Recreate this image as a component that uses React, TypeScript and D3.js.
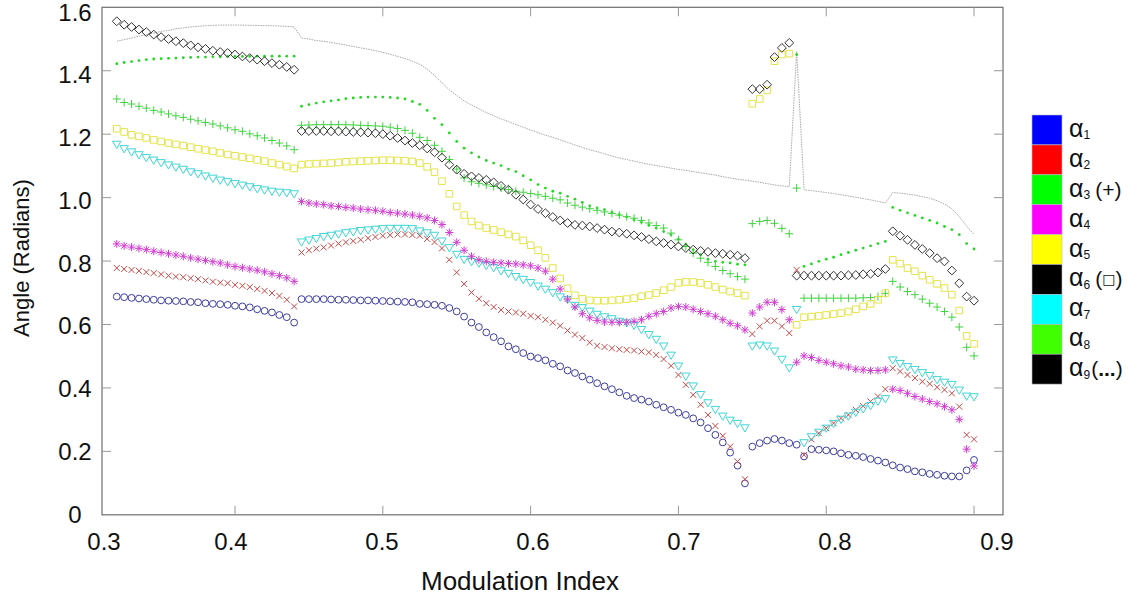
import React from 'react';
import * as d3 from 'd3';

// Modulation index grid (step 0.005 from 0.32 to 0.90)
const modIndex: number[] = d3.range(117).map((i) => +(0.32 + 0.005 * i).toFixed(3));

const alpha1: (number | null)[] = [
  0.688,0.686,0.684,0.682,0.680,0.678,0.676,0.675,0.674,0.673,0.671,0.670,0.667,0.665,0.664,0.662,0.659,0.657,0.654,0.648,0.643,0.638,0.630,0.623,0.606,
  0.680,0.680,0.680,0.680,0.679,0.678,0.678,0.677,0.676,0.676,0.675,0.674,0.673,0.672,0.671,0.670,
  0.665,0.664,0.662,0.659,0.652,0.641,0.625,0.606,0.592,0.575,0.560,0.547,0.531,0.522,0.510,0.499,0.494,0.487,0.476,0.468,0.455,0.447,0.436,0.426,0.415,0.405,0.396,0.386,0.375,0.368,0.363,0.357,0.347,0.339,0.331,0.322,0.315,0.304,0.291,0.273,0.252,0.228,0.196,0.155,0.099,
  0.215,0.226,0.234,0.239,0.234,0.226,0.221,
  0.184,0.207,0.205,0.203,0.200,0.194,0.189,0.186,0.182,0.176,0.171,0.165,0.156,0.149,0.144,0.137,0.134,0.129,0.126,0.123,0.121,0.121,0.140,0.173,
];

const alpha2: (number | null)[] = [
  0.778,0.775,0.772,0.769,0.765,0.762,0.758,0.754,0.751,0.749,0.746,0.743,0.739,0.735,0.732,0.730,0.725,0.722,0.718,0.712,0.706,0.699,0.690,0.678,0.657,
  0.827,0.834,0.839,0.843,0.849,0.855,0.859,0.863,0.867,0.872,0.876,0.880,0.882,0.884,0.884,0.882,
  0.880,0.870,0.860,0.840,0.804,0.764,0.728,0.701,0.681,0.667,0.655,0.646,0.641,0.638,0.634,0.627,0.623,0.615,0.606,0.596,0.581,0.568,0.557,0.543,0.533,0.529,0.525,0.522,0.520,0.518,0.515,0.512,0.504,0.491,0.470,0.441,0.410,0.378,0.347,0.315,0.280,0.249,0.215,0.168,0.112,
  0.570,0.594,0.612,0.612,0.594,0.573,
  0.772,
  0.189,0.238,0.257,0.273,0.289,0.304,0.315,0.331,0.343,0.357,0.373,0.396,
  0.462,0.452,0.441,0.431,0.420,0.413,0.402,0.394,0.383,0.341,0.252,0.238,
];

const alpha3: (number | null)[] = [
  1.311,1.300,1.295,1.288,1.282,1.275,1.270,1.264,1.258,1.253,1.247,1.242,1.237,1.232,1.226,1.220,1.214,1.209,1.201,1.195,1.188,1.180,1.172,1.163,1.151,
  1.228,1.229,1.230,1.230,1.230,1.230,1.230,1.229,1.228,1.227,1.226,1.225,1.222,1.218,1.212,1.203,
  1.190,1.180,1.165,1.146,1.120,1.090,1.062,1.050,1.045,1.040,1.035,1.030,1.025,1.020,1.017,1.013,1.009,1.004,0.998,0.993,0.983,0.976,0.970,0.965,0.960,0.955,0.950,0.945,0.940,0.935,0.928,0.920,0.912,0.904,0.888,0.867,0.846,0.825,0.809,0.796,0.783,0.770,0.760,0.751,0.743,
  0.918,0.925,0.928,0.919,0.903,0.886,
  1.030,
  0.683,0.683,0.683,0.683,0.683,0.683,0.683,0.683,0.684,0.685,0.688,0.698,
  0.736,0.718,0.704,0.694,0.680,0.667,0.655,0.641,0.623,0.592,0.528,0.501,
];

const alpha4: (number | null)[] = [
  0.854,0.848,0.844,0.840,0.836,0.831,0.827,0.823,0.819,0.815,0.810,0.806,0.802,0.798,0.794,0.788,0.783,0.779,0.775,0.771,0.766,0.760,0.754,0.747,0.736,
  0.988,0.983,0.980,0.978,0.974,0.972,0.969,0.967,0.964,0.962,0.960,0.957,0.953,0.951,0.948,0.945,
  0.941,0.936,0.928,0.915,0.890,0.859,0.834,0.815,0.804,0.799,0.796,0.794,0.792,0.791,0.788,0.785,0.778,0.768,0.743,0.712,0.680,0.655,0.634,0.621,0.613,0.608,0.607,0.607,0.607,0.610,0.615,0.626,0.634,0.641,0.652,0.657,0.655,0.648,0.641,0.634,0.626,0.615,0.604,0.596,0.583,
  0.636,0.655,0.670,0.670,0.647,0.615,
  0.481,
  0.501,0.496,0.487,0.481,0.476,0.470,0.466,0.459,0.457,0.455,0.455,0.457,
  0.396,0.392,0.383,0.373,0.365,0.357,0.350,0.341,0.331,0.301,0.207,0.154,
];

const alpha5: (number | null)[] = [
  1.217,1.207,1.198,1.193,1.188,1.182,1.177,1.172,1.168,1.164,1.159,1.154,1.150,1.146,1.141,1.136,1.132,1.128,1.124,1.119,1.115,1.109,1.104,1.098,1.092,
  1.104,1.106,1.107,1.108,1.109,1.111,1.113,1.114,1.115,1.116,1.117,1.118,1.118,1.117,1.116,1.114,
  1.109,1.097,1.080,1.052,1.012,0.972,0.945,0.925,0.912,0.904,0.898,0.891,0.884,0.877,0.865,0.850,0.834,0.810,0.778,0.745,0.714,0.692,0.681,0.676,0.675,0.675,0.676,0.678,0.680,0.683,0.689,0.693,0.699,0.708,0.718,0.731,0.734,0.734,0.731,0.725,0.718,0.710,0.704,0.699,0.691,
  1.296,1.311,1.338,1.430,1.451,1.454,
  0.599,
  0.623,0.625,0.627,0.630,0.633,0.636,0.641,0.648,0.657,0.665,0.678,0.699,
  0.804,0.792,0.778,0.768,0.754,0.741,0.728,0.715,0.694,0.644,0.564,0.539,
];

const alpha6: (number | null)[] = [
  1.556,1.545,1.538,1.530,1.522,1.514,1.506,1.500,1.493,1.487,1.480,1.474,1.469,1.463,1.459,1.456,1.451,1.445,1.440,1.435,1.430,1.424,1.419,1.412,1.403,
  1.210,1.210,1.210,1.210,1.209,1.209,1.208,1.207,1.206,1.205,1.203,1.200,1.195,1.188,1.180,1.172,
  1.165,1.155,1.143,1.126,1.104,1.088,1.075,1.067,1.062,1.056,1.048,1.037,1.025,1.009,0.994,0.978,0.964,0.951,0.939,0.928,0.920,0.914,0.912,0.909,0.904,0.899,0.893,0.890,0.886,0.881,0.876,0.869,0.862,0.857,0.852,0.846,0.841,0.836,0.832,0.829,0.825,0.823,0.820,0.817,0.809,
  1.342,1.342,1.356,1.443,1.472,1.488,
  0.754,
  0.754,0.754,0.754,0.754,0.754,0.754,0.755,0.756,0.758,0.760,0.764,0.775,
  0.894,0.880,0.867,0.851,0.838,0.825,0.809,0.799,0.770,0.730,0.688,0.675,
];

const alpha7: (number | null)[] = [
  1.167,1.153,1.143,1.134,1.125,1.117,1.109,1.102,1.095,1.088,1.080,1.074,1.067,1.060,1.054,1.049,1.043,1.038,1.033,1.027,1.023,1.019,1.016,1.014,1.011,
  0.859,0.865,0.870,0.876,0.880,0.884,0.888,0.891,0.895,0.897,0.899,0.901,0.902,0.902,0.902,0.901,
  0.894,0.888,0.880,0.862,0.841,0.820,0.804,0.797,0.792,0.785,0.778,0.768,0.760,0.750,0.741,0.731,0.720,0.710,0.699,0.686,0.678,0.659,0.652,0.641,0.631,0.623,0.617,0.609,0.604,0.596,0.583,0.567,0.552,0.531,0.502,0.468,0.436,0.405,0.378,0.352,0.331,0.310,0.297,0.287,0.273,
  0.531,0.534,0.531,0.515,0.489,0.462,
  0.646,
  0.226,0.245,0.259,0.272,0.287,0.300,0.310,0.322,0.333,0.343,0.357,0.365,
  0.487,0.476,0.466,0.457,0.447,0.438,0.425,0.417,0.410,0.392,0.373,0.371,
];

const alpha8: (number | null)[] = [
  1.422,1.426,1.429,1.432,1.435,1.437,1.438,1.439,1.440,1.441,1.442,1.443,1.443,1.444,1.444,1.445,1.445,1.445,1.445,1.446,1.446,1.446,1.446,1.446,1.446,
  1.288,1.293,1.298,1.302,1.305,1.308,1.312,1.314,1.316,1.317,1.317,1.317,1.316,1.314,1.311,1.303,
  1.294,1.275,1.250,1.230,1.204,1.177,1.156,1.141,1.128,1.117,1.109,1.101,1.090,1.082,1.069,1.056,1.041,1.030,1.020,1.014,1.004,0.995,0.985,0.974,0.967,0.962,0.953,0.946,0.939,0.930,0.922,0.913,0.904,0.893,0.883,0.869,0.852,0.836,0.820,0.806,0.799,0.796,0.794,0.790,0.788,
  null,null,null,null,null,null,
  1.451,
  0.783,0.791,0.799,0.806,0.812,0.820,0.827,0.834,0.841,0.848,0.855,0.862,
  0.969,0.960,0.952,0.944,0.936,0.928,0.920,0.909,0.899,0.883,0.855,0.838,
];

const alpha9: number[] = [
  1.493,1.498,1.503,1.509,1.514,1.519,1.524,1.527,1.532,1.535,1.538,1.540,1.542,1.543,1.544,1.544,1.544,1.544,1.543,1.543,1.542,1.542,1.541,1.540,1.538,
  1.503,1.500,1.495,1.493,1.489,1.485,1.481,1.477,1.472,1.468,1.463,1.458,1.452,1.445,1.439,1.430,
  1.420,1.405,1.385,1.362,1.340,1.322,1.305,1.292,1.280,1.268,1.258,1.248,1.240,1.230,1.222,1.213,1.205,1.197,1.190,1.182,1.174,1.166,1.158,1.151,1.145,1.138,1.131,1.125,1.120,1.115,1.110,1.105,1.101,1.097,1.093,1.089,1.086,1.082,1.078,1.075,1.071,1.066,1.062,1.058,1.055,
  1.052,1.048,1.044,1.040,1.037,1.035,
  1.461,
  1.025,1.022,1.019,1.016,1.013,1.009,1.005,1.001,0.997,0.993,0.988,0.983,
  1.016,1.014,1.011,1.008,1.003,0.998,0.990,0.980,0.965,0.940,0.910,0.883,
];

const xTicks = [0.4, 0.5, 0.6, 0.7, 0.8, 0.9];
const xTickLabels = [0.3, 0.4, 0.5, 0.6, 0.7, 0.8, 0.9];
const yTicks = [0.2, 0.4, 0.6, 0.8, 1.0, 1.2, 1.4];
const yTickLabels = [0, 0.2, 0.4, 0.6, 0.8, 1.0, 1.2, 1.4, 1.6];

const legendSubs = ['1', '2', '3', '4', '5', '6', '7', '8', '9'];
const legendExtras = ['', '', '(+)', '', '', '(\u25A1)', '', '', '(...)'];
const legendColors = ['#0000ff', '#ff0000', '#00ff00', '#ff00ff', '#ffff00', '#000000', '#00ffff', '#40ff00', '#000000'];

const FONT = '"Liberation Sans", Arial, Helvetica, sans-serif';

type Kind = 'circle' | 'x' | 'plus' | 'asterisk' | 'square' | 'diamond' | 'triangleDown' | 'dot';

const seriesDefs: { name: string; values: (number | null)[]; kind: Kind; color: string }[] = [
  { name: 'a8', values: alpha8, kind: 'dot', color: '#22d822' },
  { name: 'a1', values: alpha1, kind: 'circle', color: '#3d3d9e' },
  { name: 'a2', values: alpha2, kind: 'x', color: '#c84646' },
  { name: 'a3', values: alpha3, kind: 'plus', color: '#3fd43f' },
  { name: 'a7', values: alpha7, kind: 'triangleDown', color: '#3ed6d6' },
  { name: 'a4', values: alpha4, kind: 'asterisk', color: '#d23cd2' },
  { name: 'a5', values: alpha5, kind: 'square', color: '#e4e44a' },
  { name: 'a6', values: alpha6, kind: 'diamond', color: '#333333' },
];

function markerPath(kind: Kind): string {
  switch (kind) {
    case 'x': {
      const s = 3;
      return `M${-s},${-s}L${s},${s}M${-s},${s}L${s},${-s}`;
    }
    case 'plus': {
      const s = 4;
      return `M${-s},0L${s},0M0,${-s}L0,${s}`;
    }
    case 'asterisk': {
      const s = 4, t = 2.9;
      return `M${-s},0L${s},0M0,${-s}L0,${s}M${-t},${-t}L${t},${t}M${-t},${t}L${t},${-t}`;
    }
    case 'square': {
      const s = 3.3;
      return `M${-s},${-s}H${s}V${s}H${-s}Z`;
    }
    case 'diamond': {
      const s = 4.4;
      return `M0,${-s}L${s},0L0,${s}L${-s},0Z`;
    }
    case 'triangleDown': {
      const s = 4.2;
      return `M${-s},${-3.4}L${s},${-3.4}L0,${3.8}Z`;
    }
    default:
      return '';
  }
}

export default function App() {
  const W = 1146;
  const H = 600;
  const left = 102, right = 1003, top = 7.3, bottom = 514.8;

  const x = d3.scaleLinear().domain([0.31, 0.9196]).range([left, right]);
  const y = d3.scaleLinear().domain([0, 1.6]).range([bottom, top]);
  // text label placement (labels in the source figure sit slightly off the ticks)
  const xLab = d3.scaleLinear().domain([0.3, 0.4, 0.8, 0.9]).range([104, 231, 835, 997]);
  const yLab = d3.scaleLinear().domain([0, 1.6]).range([514, 12]);

  const grayLine = d3
    .line<number>()
    .x((_, i) => x(modIndex[i]))
    .y((d) => y(d));

  const legendTop = 115;
  const legendH = 29.9;

  return (
    <svg
      width={W}
      height={H}
      style={{ position: 'absolute', left: 0, top: 0, background: '#fff' }}
      fontFamily={FONT}
    >
      <rect x={0} y={0} width={W} height={H} fill="#fff" />

      {/* α9 dotted gray line */}
      <path d={grayLine(alpha9) || ''} fill="none" stroke="#a8a8a8" strokeWidth={1} strokeDasharray="1.5,1" />

      {/* markers */}
      {seriesDefs.map((s) => (
        <g key={s.name}>
          {s.values.map((v, i) => {
            if (v == null) return null;
            const cx = x(modIndex[i]);
            const cy = y(v);
            if (s.kind === 'circle')
              return <circle key={i} cx={cx} cy={cy} r={3.4} fill="none" stroke={s.color} strokeWidth={1} />;
            if (s.kind === 'dot') return <circle key={i} cx={cx} cy={cy} r={1.4} fill={s.color} />;
            return (
              <path
                key={i}
                d={markerPath(s.kind)}
                transform={`translate(${cx},${cy})`}
                fill="none"
                stroke={s.color}
                strokeWidth={1}
              />
            );
          })}
        </g>
      ))}

      {/* frame */}
      <rect x={left} y={top} width={right - left} height={bottom - top} fill="none" stroke="#6e6e6e" strokeWidth={1.2} />

      {/* ticks */}
      {xTicks.map((t) => (
        <g key={'xt' + t}>
          <line x1={x(t)} x2={x(t)} y1={bottom} y2={bottom - 9} stroke="#999" strokeWidth={1} />
          <line x1={x(t)} x2={x(t)} y1={top} y2={top + 9} stroke="#999" strokeWidth={1} />
        </g>
      ))}
      {yTicks.map((t) => (
        <g key={'yt' + t}>
          <line x1={left} x2={left + 9} y1={y(t)} y2={y(t)} stroke="#999" strokeWidth={1} />
          <line x1={right} x2={right - 9} y1={y(t)} y2={y(t)} stroke="#999" strokeWidth={1} />
        </g>
      ))}

      {/* tick labels */}
      {xTickLabels.map((t) => (
        <text key={'xl' + t} x={xLab(t)} y={550} fontSize={24} textAnchor="middle" fill="#111">
          {t.toFixed(1)}
        </text>
      ))}
      {yTickLabels.map((t) => (
        <text
          key={'yl' + t}
          x={75}
          y={yLab(t)}
          dy="0.36em"
          fontSize={24}
          textAnchor="middle"
          fill="#111"
        >
          {t === 0 ? '0' : t.toFixed(1)}
        </text>
      ))}

      {/* axis titles */}
      <text x={520} y={590} fontSize={26} textAnchor="middle" fill="#111">
        Modulation Index
      </text>
      <text transform="translate(29,258) rotate(-90)" fontSize={22} textAnchor="middle" fill="#111">
        Angle (Radians)
      </text>

      {/* legend */}
      {legendColors.map((c, k) => {
        const y0 = legendTop + k * legendH;
        const cyc = y0 + legendH / 2;
        return (
          <g key={'lg' + k}>
            <rect x={1032} y={y0} width={30} height={legendH} fill={c} stroke="#b8b8c8" strokeWidth={0.6} />
            <text x={1069} y={cyc + 7} fill="#111">
              <tspan fontSize={25}>α</tspan>
              <tspan fontSize={12} dy={2.5}>{legendSubs[k]}</tspan>
              {legendExtras[k] === '(...)' ? (
                <tspan dy={-2.5} dx={1} fontSize={21}>
                  (<tspan fontWeight="bold">...</tspan>)
                </tspan>
              ) : legendExtras[k] === '(\u25A1)' ? (
                <tspan dy={-2.5} dx={5} fontSize={21}>
                  (<tspan fontSize={14} dy={-2} fontFamily="DejaVu Sans">{'\u25A1'}</tspan><tspan dy={2}>)</tspan>
                </tspan>
              ) : legendExtras[k] ? (
                <tspan dy={-2.5} dx={5} fontSize={21}>
                  {legendExtras[k]}
                </tspan>
              ) : null}
            </text>
          </g>
        );
      })}
    </svg>
  );
}
